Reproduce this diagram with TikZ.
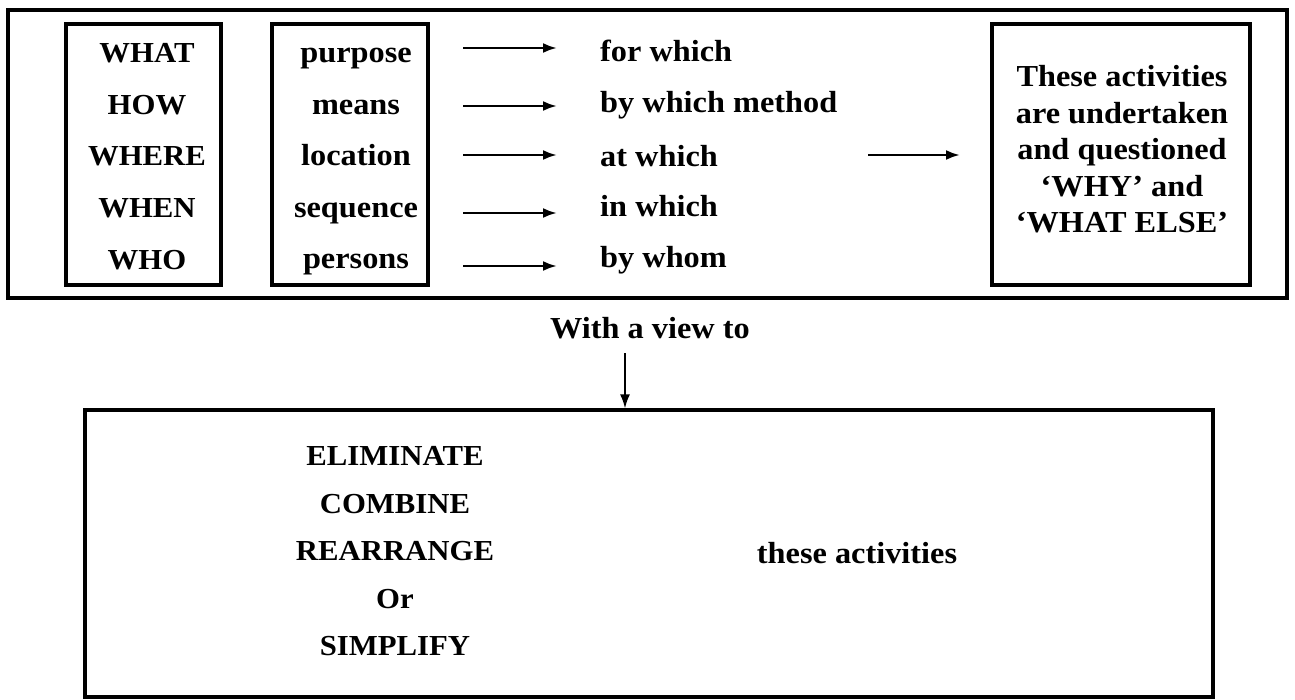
\documentclass[tikz,border=0pt]{standalone}
\usepackage{fontspec}
\setmainfont{Liberation Serif}[FakeStretch=1.06]
\usetikzlibrary{arrows.meta}
\begin{document}
\begin{tikzpicture}[x=1pt,y=-1pt,
  frame/.style={draw,line width=3.2pt,inner sep=0pt},
  lbl/.style={font=\fontsize{30.5}{36.5}\selectfont\bfseries,inner sep=0pt,anchor=base},
  caps/.style={lbl,font=\fontsize{29}{36.5}\selectfont\bfseries},
  conn/.style={line width=2.5pt,-{Latex[length=14pt,width=10pt]}}]
\useasboundingbox (0,0) rectangle (1295,700);

% frames
\node[frame,minimum width=1279,minimum height=288] (outer) at (647.5,154) {};
\node[frame,minimum width=155,minimum height=261] (qbox) at (143.5,154.5) {};
\node[frame,minimum width=156,minimum height=261] (abox) at (350,154.5) {};
\node[frame,minimum width=258,minimum height=261] (wbox) at (1121,154.5) {};
\node[frame,minimum width=1128,minimum height=287] (bbox) at (649,553.5) {};

% question words
\node[caps] (q1) at (147,63) {WHAT};
\node[caps] (q2) at (147,115) {HOW};
\node[caps] (q3) at (147,166) {WHERE};
\node[caps] (q4) at (147,218) {WHEN};
\node[caps] (q5) at (147,270) {WHO};

% aspects
\node[lbl] (p1) at (356,63) {purpose};
\node[lbl] (p2) at (356,115) {means};
\node[lbl] (p3) at (356,166) {location};
\node[lbl] (p4) at (356,218) {sequence};
\node[lbl] (p5) at (356,269) {persons};

% qualifiers
\node[lbl,anchor=base west] (f1) at (600,62) {for which};
\node[lbl,anchor=base west] (f2) at (600,113) {by which method};
\node[lbl,anchor=base west] (f3) at (600,167) {at which};
\node[lbl,anchor=base west] (f4) at (600,217) {in which};
\node[lbl,anchor=base west] (f5) at (600,268) {by whom};

% arrow end points
\coordinate (s1) at (463,48);  \coordinate (e1) at (557,48);
\coordinate (s2) at (463,106); \coordinate (e2) at (557,106);
\coordinate (s3) at (463,155); \coordinate (e3) at (557,155);
\coordinate (s4) at (463,213); \coordinate (e4) at (557,213);
\coordinate (s5) at (463,266); \coordinate (e5) at (557,266);
\coordinate (s6) at (868,155); \coordinate (e6) at (960,155);
\foreach \i in {1,...,6} \draw[conn] (s\i) -- (e\i);

% right-hand statement (base anchor sits on the last line)
\node[lbl,align=center] (why) at (1122,233)
  {These activities\\are undertaken\\and questioned\\‘WHY’ and\\‘WHAT ELSE’};

% link to the lower box
\node[lbl] (view) at (650,338) {With a view to};
\coordinate (v1) at (625,353);
\draw[conn,line width=1.8pt] (v1) -- (v1 |- bbox.north);

% lower box contents
\node[caps] (m1) at (395,465) {ELIMINATE};
\node[caps] (m2) at (395,513) {COMBINE};
\node[caps] (m3) at (395,560) {REARRANGE};
\node[caps] (m4) at (395,608) {Or};
\node[caps] (m5) at (395,655) {SIMPLIFY};
\node[lbl] (acts) at (857,563) {these activities};
\end{tikzpicture}
\end{document}
